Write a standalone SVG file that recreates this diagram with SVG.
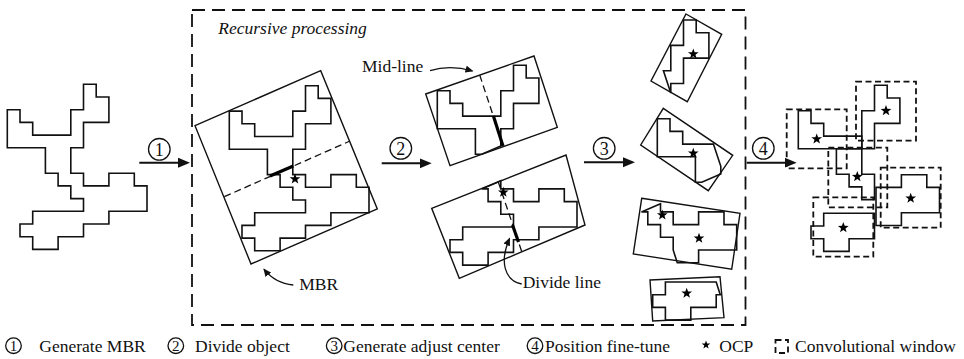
<svg xmlns="http://www.w3.org/2000/svg" width="964" height="359" viewBox="0 0 964 359">
  <defs>
    <style>
      .ln { fill: none; stroke: #111; stroke-width: 1.6; stroke-linejoin: miter; }
      .box { fill: none; stroke: #111; stroke-width: 1.4; }
      .mid { fill: none; stroke: #111; stroke-width: 1.3; stroke-dasharray: 7 4; }
      .cut { stroke: #000; stroke-width: 3.2; }
      .win { fill: none; stroke: #111; stroke-width: 1.8; stroke-dasharray: 6 3.5; }
      .frame { fill: none; stroke: #111; stroke-width: 1.8; stroke-dasharray: 13 7; }
      .arr { fill: none; stroke: #111; stroke-width: 2; }
      .note { fill: none; stroke: #111; stroke-width: 1.3; }
      .ring { fill: #fff; stroke: #111; stroke-width: 1.3; }
      .star { fill: #000; }
      text { font-family: "Liberation Serif", "Times New Roman", serif; fill: #111; }
      .lbl { font-size: 17.5px; }
      .num { font-size: 18px; text-anchor: middle; }
      .snum { font-size: 15px; text-anchor: middle; }
    </style>
    <!-- whole object outline, grid unit 12.7 -->
    <path id="obj" d="M0,25.4H12.7V38.1H25.4V50.8H63.5V25.4H76.2V0H88.9V12.7H101.6V38.1H76.2V63.5H63.5V88.9H76.2V101.6H101.6V88.9H127V101.6H139.7V127H101.6V139.7H76.2V152.4H50.8V165.1H25.4V152.4H12.7V139.7H25.4V127H76.2V114.3H63.5V101.6H50.8V88.9H38.1V63.5H0Z"/>
    <!-- five-point star marking a centre point -->
    <path id="star" d="M0,-5.6L1.35,-1.86L5.33,-1.73L2.18,0.71L3.29,4.53L0,2.3L-3.29,4.53L-2.18,0.71L-5.33,-1.73L-1.35,-1.86Z"/>
    <marker id="head" markerUnits="userSpaceOnUse" markerWidth="13" markerHeight="11" refX="8" refY="5" orient="auto">
      <path d="M0,0L12,5L0,10Z" fill="#111"/>
    </marker>
    <marker id="tip" markerUnits="userSpaceOnUse" markerWidth="9" markerHeight="8" refX="7" refY="3.5" orient="auto">
      <path d="M0,0L8,3.5L0,7Z" fill="#111"/>
    </marker>
  </defs>

  <rect width="964" height="359" fill="#fff"/>

  <!-- recursive processing frame -->
  <g id="recursive-frame">
    <rect class="frame" x="192" y="10" width="553.5" height="315"/>
    <text class="lbl" x="218.3" y="34.3" font-style="italic">Recursive processing</text>
  </g>

  <!-- input object -->
  <g id="source-object">
    <use href="#obj" class="ln" transform="translate(7.3,84.3)"/>
  </g>

  <!-- step 1: minimum bounding rectangle and first divide line -->
  <g id="step1-mbr">
    <polygon class="box" points="195,125.7 320.7,70.7 377.3,209 251,264"/>
    <use href="#obj" class="ln" transform="translate(229.3,85.7)"/>
    <line class="mid" x1="224.3" y1="196.7" x2="350" y2="141"/>
    <line class="cut" x1="270" y1="176" x2="293.3" y2="166"/>
    <use href="#star" class="star" x="295" y="179"/>
    <text class="lbl" x="299.3" y="290">MBR</text>
  </g>

  <!-- step 2: two halves with their rectangles and mid-lines -->
  <g id="step2-upper">
    <polygon class="box" points="425.7,94 534,56 557.3,127.3 450,165.7"/>
    <path class="ln" transform="translate(437.3,65.3)" d="M0,25.4H12.7V38.1H25.4V50.8H63.5V25.4H76.2V0H88.9V12.7H101.6V38.1H76.2V63.5H63.5V80.65L44.45,88.9H38.1V63.5H0Z"/>
    <line class="mid" x1="479.7" y1="75" x2="503.4" y2="146.5"/>
    <line class="cut" x1="493.4" y1="116.1" x2="503" y2="146"/>
    <text class="lbl" x="362" y="71.7">Mid-line</text>
  </g>
  <g id="step2-lower">
    <polygon class="box" points="431.7,208.3 566,155 585,225 459.3,278.3"/>
    <path class="ln" transform="translate(437.3,100)" d="M44.45,88.9H50.8V101.6H63.5V114.3H76.2V127H25.4V139.7H12.7V152.4H25.4V165.1H50.8V152.4H76.2V139.7H101.6V127H139.7V101.6H127V88.9H101.6V101.6H76.2V88.9H63.5V80.65Z"/>
    <line class="mid" x1="498.3" y1="182" x2="521.8" y2="251.8"/>
    <line class="cut" x1="512.5" y1="225" x2="518.5" y2="242"/>
    <use href="#star" class="star" x="503.3" y="192.3"/>
    <text class="lbl" x="522.7" y="288">Divide line</text>
  </g>

  <!-- step 3: four pieces with adjusted centers -->
  <g id="piece-a">
    <polygon class="box" points="686,14 721.7,34.3 687.3,101.7 651,81"/>
    <path class="ln" transform="translate(607.3,20)" d="M63.5,25.4H76.2V0H88.9V12.7H101.6V38.1H76.2V63.5H63.5V73.03L56.13,50.8H63.5Z"/>
    <use href="#star" class="star" x="693.3" y="54"/>
  </g>
  <g id="piece-b">
    <polygon class="box" points="663.3,108.3 732.7,155.3 708.3,190.7 640.7,145"/>
    <path class="ln" transform="translate(657.3,93.3)" d="M0,25.4H12.7V38.1H25.4V50.8H56.13L63.5,73.03V80.65L44.45,88.9H38.1V63.5H0Z"/>
    <use href="#star" class="star" x="693.3" y="153.3"/>
  </g>
  <g id="piece-c">
    <polygon class="box" points="641.7,198.3 740,213.3 731.7,269.3 633.3,254"/>
    <path class="ln" transform="translate(597,123)" d="M44.45,88.9H50.8V101.6H63.5V114.3H76.2V127L80.26,139.7H101.6V127H139.7V101.6H127V88.9H101.6V101.6H76.2V88.9H63.5V80.65Z"/>
    <use href="#star" class="star" x="662.3" y="215"/>
    <use href="#star" class="star" x="699" y="238.3"/>
  </g>
  <g id="piece-d">
    <polygon class="box" points="650,280 720,276.7 724,317.7 652.7,321"/>
    <path class="ln" transform="translate(640,155)" d="M25.4,127H76.2L80.26,139.7H76.2V152.4H50.8V165.1H25.4V152.4H12.7V139.7H25.4Z"/>
    <use href="#star" class="star" x="686.7" y="293.3"/>
  </g>

  <!-- step 4: reassembled pieces inside convolutional windows -->
  <g id="result">
    <g transform="translate(798.3,85.3)">
      <path class="ln" d="M0,25.4H12.7V38.1H25.4V50.8H63.5V63.5H0Z"/>
      <path class="ln" d="M63.5,25.4H76.2V0H88.9V12.7H101.6V38.1H76.2V63.5H63.5Z"/>
      <path class="ln" d="M38.1,63.5H63.5V88.9H76.2V114.3H63.5V101.6H50.8V88.9H38.1Z"/>
      <path class="ln" transform="translate(1.5,0.5)" d="M76.2,101.6H101.6V88.9H127V101.6H139.7V127H101.6V139.7H76.2Z"/>
      <path class="ln" transform="translate(0,1)" d="M25.4,127H76.2V152.4H50.8V165.1H25.4V152.4H12.7V139.7H25.4Z"/>
    </g>
    <rect class="win" x="786.7" y="109.3" width="60" height="59"/>
    <rect class="win" x="856" y="81.7" width="60" height="59"/>
    <rect class="win" x="828.3" y="147.7" width="59" height="59.6"/>
    <rect class="win" x="880.7" y="167.7" width="60" height="60"/>
    <rect class="win" x="813.3" y="197.3" width="60" height="59.4"/>
    <use href="#star" class="star" x="816.7" y="139"/>
    <use href="#star" class="star" x="886" y="110.7"/>
    <use href="#star" class="star" x="857.3" y="176.7"/>
    <use href="#star" class="star" x="910.7" y="198.3"/>
    <use href="#star" class="star" x="843.3" y="227.7"/>
  </g>

  <!-- process arrows and annotation pointers -->
  <g id="connectors">
    <line class="arr" x1="139.3" y1="162.7" x2="186" y2="162.7" marker-end="url(#head)"/>
    <line class="arr" x1="381.7" y1="163.3" x2="427.7" y2="163.3" marker-end="url(#head)"/>
    <line class="arr" x1="584" y1="162.3" x2="631" y2="162.3" marker-end="url(#head)"/>
    <line class="arr" x1="746.7" y1="162.7" x2="792.7" y2="162.7" marker-end="url(#head)"/>
    <circle class="ring" cx="159.3" cy="149.3" r="10.8"/>
    <text class="num" x="159.3" y="155.5">1</text>
    <circle class="ring" cx="400.8" cy="148.3" r="10.8"/>
    <text class="num" x="400.8" y="154.5">2</text>
    <circle class="ring" cx="604.2" cy="148.3" r="10.8"/>
    <text class="num" x="604.2" y="154.5">3</text>
    <circle class="ring" cx="763.3" cy="148.3" r="10.8"/>
    <text class="num" x="763.3" y="154.5">4</text>
    <path class="note" d="M430,70.7Q450,64.5 472.5,71" marker-end="url(#tip)"/>
    <path class="note" d="M293.3,285Q275,283.4 264,269.2" marker-end="url(#tip)"/>
    <path class="note" d="M521.7,284C505,281 499,262 509.6,238.5" marker-end="url(#tip)"/>
  </g>

  <!-- legend -->
  <g id="legend">
    <circle class="ring" cx="13.5" cy="345.7" r="7.8"/>
    <text class="snum" x="13.5" y="351">1</text>
    <text class="lbl" x="39.3" y="352.3">Generate MBR</text>
    <circle class="ring" cx="175.8" cy="345.7" r="7.8"/>
    <text class="snum" x="175.8" y="351">2</text>
    <text class="lbl" x="195" y="352.3">Divide object</text>
    <circle class="ring" cx="334.2" cy="345.7" r="7.8"/>
    <text class="snum" x="334.2" y="351">3</text>
    <text class="lbl" x="343.3" y="352.3">Generate adjust center</text>
    <circle class="ring" cx="535" cy="345.7" r="7.8"/>
    <text class="snum" x="535" y="351">4</text>
    <text class="lbl" x="545" y="352.3">Position fine-tune</text>
    <use href="#star" class="star" transform="translate(706,345) scale(0.8)"/>
    <text class="lbl" x="719.3" y="352.3">OCP</text>
    <rect class="win" x="775.5" y="340" width="12.5" height="13" stroke-width="1.5" stroke-dasharray="4 3"/>
    <text class="lbl" x="795" y="352.3">Convolutional window</text>
  </g>
</svg>
